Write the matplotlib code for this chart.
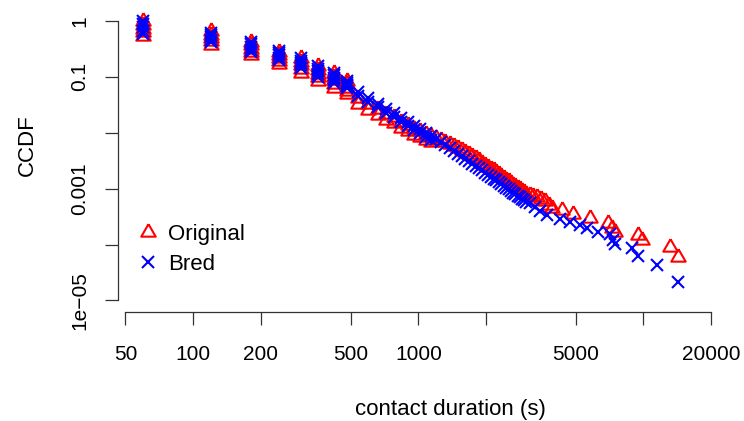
import matplotlib
matplotlib.use("Agg")
import matplotlib.pyplot as plt

plt.rcParams['font.family'] = ['Liberation Sans', 'DejaVu Sans']

# early durations: several points stacked at the same x
stack_x = [60, 120, 180, 240, 300, 360, 420, 480]
orig_stack_y = [[1.0, 0.857, 0.734, 0.629, 0.539],
                [0.662, 0.573, 0.497, 0.430, 0.372],
                [0.421, 0.368, 0.322, 0.282, 0.247],
                [0.279, 0.247, 0.218, 0.192, 0.170],
                [0.218, 0.187, 0.160, 0.137, 0.117],
                [0.157, 0.134, 0.115, 0.0986, 0.0845],
                [0.117, 0.101, 0.0863, 0.0738, 0.0633],
                [0.0845, 0.0739, 0.0646, 0.0565, 0.0494]]
bred_stack_y = [[1.0, 0.875, 0.765, 0.670, 0.585],
                [0.610, 0.556, 0.507, 0.462, 0.421],
                [0.421, 0.380, 0.343, 0.309, 0.279],
                [0.290, 0.265, 0.242, 0.220, 0.200],
                [0.218, 0.196, 0.177, 0.160, 0.144],
                [0.157, 0.140, 0.125, 0.112, 0.0996],
                [0.117, 0.106, 0.0955, 0.0863, 0.0778],
                [0.0845, 0.0787, 0.0731, 0.0681, 0.0633]]

# dense middle part
mid_x = [540, 600, 660, 720, 780, 840, 900, 960, 1020, 1080, 1140, 1200, 1260, 1320,
         1380, 1440, 1500, 1560, 1620, 1680, 1740, 1800, 1860, 1920, 1980, 2040, 2100,
         2160, 2220, 2280, 2340, 2400, 2460, 2520, 2580, 2640, 2700, 2760, 2820, 2880,
         2940, 3000]
orig_mid_y = [0.0425, 0.0330, 0.0272, 0.0221, 0.01886, 0.01573, 0.01390, 0.01184, 0.01068,
              0.00968, 0.00884, 0.00804, 0.00734, 0.00673, 0.00620, 0.00578, 0.00539,
              0.00484, 0.00455, 0.00411, 0.00388, 0.00353, 0.00322, 0.00294, 0.00270,
              0.00249, 0.00229, 0.00212, 0.00196, 0.00182, 0.00169, 0.00157, 0.00145,
              0.00136, 0.00127, 0.00118, 0.00111, 0.00104, 0.000976, 0.000918, 0.000866,
              0.000814]
bred_mid_y = [0.0543, 0.0423, 0.0334, 0.0271, 0.0222, 0.01855, 0.01573, 0.01340, 0.01160,
              0.01008, 0.00884, 0.00772, 0.00676, 0.00595, 0.00526, 0.00471, 0.00421,
              0.00378, 0.00341, 0.00308, 0.00279, 0.00254, 0.00232, 0.00212, 0.00194,
              0.00179, 0.00165, 0.00152, 0.00141, 0.00131, 0.00121, 0.00113, 0.00105,
              0.000976, 0.000914, 0.000852, 0.000797, 0.000749, 0.000702, 0.000660,
              0.000623, 0.000585]

# second, slightly lower point of the short stacks between 540 and 1140 s
low_x = [540, 600, 660, 720, 780, 840, 900, 960, 1020, 1080, 1140]
orig_low_y = [0.0332, 0.0258, 0.0212, 0.0172, 0.01473, 0.01229, 0.01086, 0.00925,
              0.00834, 0.00756, 0.00690]
bred_low_y = [0.0461, 0.0359, 0.0284, 0.0230, 0.01886, 0.01573, 0.01334, 0.01136,
              0.00984, 0.00855, 0.00749]

# sparse tail
orig_tail_x = [3120, 3240, 3365, 3500, 3650, 3800, 3930, 4350, 4860, 5780, 6950, 7240,
               7470, 9470, 9860, 13130, 14240]
orig_tail_y = [0.000771, 0.000740, 0.000710, 0.000654, 0.000603, 0.000511, 0.000452,
               0.000416, 0.000353, 0.000299, 0.000243, 0.000198, 0.000168, 0.000148,
               0.000121, 0.0000906, 0.0000600]
bred_tail_x = [3120, 3300, 3480, 3720, 4255, 4715, 5225, 5610, 6280, 7100, 7320, 7470,
               8900, 9470, 11490, 14240]
bred_tail_y = [0.000555, 0.000471, 0.000399, 0.000338, 0.000287, 0.000254, 0.000224,
               0.000198, 0.000168, 0.000155, 0.000121, 0.000103, 0.0000870, 0.0000625,
               0.0000432, 0.0000214]

x_ticks = [50, 100, 200, 500, 1000, 2000, 5000, 10000, 20000]
x_tick_labels = ['50', '100', '200', '500', '1000', '', '5000', '', '20000']
y_ticks = [1, 0.1, 0.01, 0.001, 1e-4, 1e-5]
y_tick_labels = ['1', '0.1', '', '0.001', '', '1e\u221205']


def build_series(stack_y, low_y, mid_y, tail_x, tail_y):
    xs, ys = [], []
    for x, col in zip(stack_x, stack_y):
        for y in col:
            xs.append(x)
            ys.append(y)
    xs += low_x + mid_x + tail_x
    ys += low_y + mid_y + tail_y
    return xs, ys


orig_x, orig_y = build_series(orig_stack_y, orig_low_y, orig_mid_y, orig_tail_x, orig_tail_y)
bred_x, bred_y = build_series(bred_stack_y, bred_low_y, bred_mid_y, bred_tail_x, bred_tail_y)

W, H = 744, 421
fig = plt.figure(figsize=(W / 100, H / 100), dpi=100)
ax = fig.add_axes([118 / W, 109 / H, 602 / W, 304 / H])

tri = [(0, 1), (-0.866, -0.5), (0.866, -0.5), (0, 1)]
ax.plot(orig_x, orig_y, linestyle='none', marker=tri, markersize=12,
        markerfacecolor='none', markeredgecolor='#ff0000', markeredgewidth=1.5,
        label='Original')
ax.plot(bred_x, bred_y, linestyle='none', marker='x', markersize=8.5,
        color='#0000ff', markeredgewidth=1.5, label='Bred')

ax.set_xscale('log')
ax.set_yscale('log')
ax.set_xlim(46.33, 21884)
ax.set_ylim(6.226e-6, 1.708)

ax.set_xticks(x_ticks)
ax.set_xticklabels(x_tick_labels)
ax.set_yticks(y_ticks)
ax.set_yticklabels(y_tick_labels, rotation=90, va='center')
ax.minorticks_off()
ax.tick_params(axis='both', direction='out', length=9.5, width=0.9, color='#333333',
               labelsize=15, labelcolor='black')
ax.tick_params(axis='x', pad=14)
ax.tick_params(axis='y', pad=11)

for side in ['top', 'right']:
    ax.spines[side].set_visible(False)
ax.spines['left'].set_bounds(1e-5, 1)
ax.spines['bottom'].set_bounds(50, 20000)
for side in ['left', 'bottom']:
    ax.spines[side].set_linewidth(0.9)
    ax.spines[side].set_color('#333333')

ax.legend(loc='upper left', bbox_to_anchor=(0.031, 0.29), borderaxespad=0,
          borderpad=0, frameon=False, fontsize=16, handlelength=1.0,
          handletextpad=0.4, labelspacing=0.42)

fig.text(450 / W, 1 - 410 / H, 'contact duration (s)', ha='center', va='center',
         fontsize=16)
fig.text(27 / W, 1 - 145 / H, 'CCDF', ha='center', va='center', rotation=90,
         fontsize=16)

fig.savefig('out.png', dpi=100)
